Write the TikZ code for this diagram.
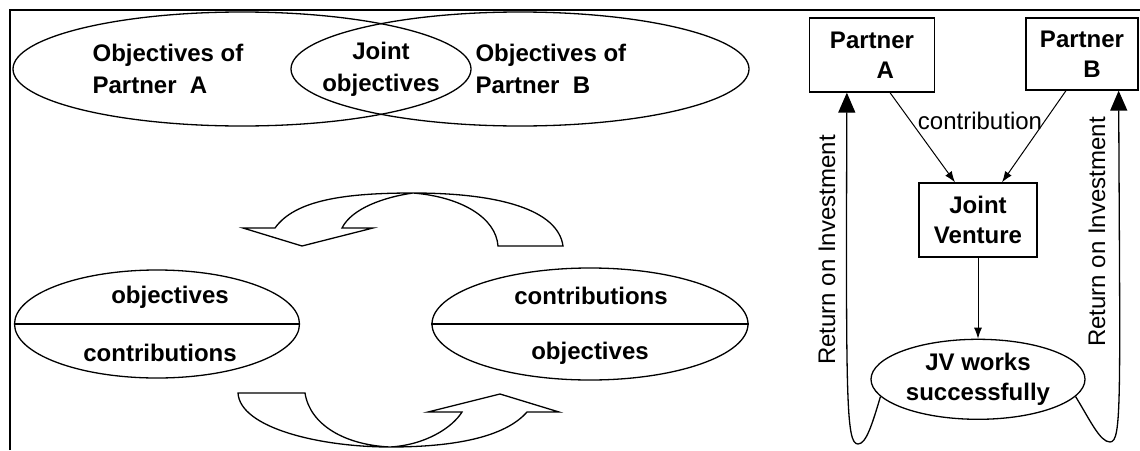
\documentclass[tikz,border=0pt]{standalone}
\usepackage{fontspec}
\setmainfont{Liberation Sans}
\usetikzlibrary{shapes,arrows.meta,positioning}

\tikzset{
  every node/.style={font=\fontsize{24}{30}\selectfont},
  oval/.style={draw,ellipse,line width=1.3pt,inner sep=0pt},
  box/.style={draw,rectangle,line width=1.3pt,inner sep=0pt,align=center,font=\fontsize{24}{30}\selectfont\bfseries},
  txt/.style={align=center,font=\fontsize{24}{32}\selectfont\bfseries},
  bigarrow/.style={draw,line width=1.3pt,line join=miter},
  flow/.style={-{Latex[length=11pt,width=8pt]},line width=1pt},
  roi/.style={-{Triangle[length=20pt,width=17pt]},line width=1.3pt},
}

\begin{document}
\begin{tikzpicture}[x=1pt,y=-1pt]
  \useasboundingbox (0,0) rectangle (1140,450);
  \draw[line width=2.5pt] (10,450) -- (10,10) -- (1140,10);

  % partner objectives
  \node[oval,minimum width=458pt,minimum height=114pt] (objA) at (242,69) {};
  \node[oval,minimum width=458pt,minimum height=114pt] (objB) at (520,69) {};
  \node[txt,align=left] (txtA) at (168,69) {Objectives of\\Partner\ \ A};
  \node[txt] (txtJoint) at (381,69) {Joint\\objectives};
  \node[txt,align=left,anchor=west] (txtB) at (472,69) {Objectives of\\Partner\ \ B};

  % exchange
  \node[oval,minimum width=285pt,minimum height=108pt] (lhalf) at (157,324) {};
  \draw[line width=1.3pt] (lhalf.west) -- (lhalf.east);
  \node[txt] (lobj) at (170,297) {objectives};
  \node[txt] (lcon) at (160,353) {contributions};
  \node[oval,minimum width=316pt,minimum height=112pt] (rhalf) at (590,324) {};
  \draw[line width=1.3pt] (rhalf.west) -- (rhalf.east);
  \node[txt] (rcon) at (591,296) {contributions};
  \node[txt] (robj) at (590,353) {objectives};

  \draw[bigarrow] (243,228) -- (275,228) .. controls (295,200) and (345,193) .. (413,193)
    .. controls (500,193) and (558,210) .. (563,246) -- (498,246)
    .. controls (496,218) and (462,197) .. (413,193)
    .. controls (385,197) and (352,208) .. (342,228) -- (373,228) -- (302,246) -- cycle;
  \draw[bigarrow] (238,393) -- (305,393) .. controls (310,425) and (345,445) .. (390,447)
    .. controls (425,445) and (452,428) .. (462,412) -- (428,412) -- (500,394) -- (559,412) -- (527,412)
    .. controls (505,437) and (455,447) .. (390,447)
    .. controls (320,447) and (240,428) .. (238,393) -- cycle;

  % joint venture
  \node[box,minimum width=125pt,minimum height=74pt] (partA) at (872,55) {Partner\\\ \ \ \ A};
  \node[box,minimum width=112pt,minimum height=72pt] (partB) at (1082,54) {Partner\\\ \ \ B};
  \node[box,minimum width=118pt,minimum height=74pt] (jv) at (978,220) {Joint\\Venture};
  \node[oval,txt,font=\fontsize{24}{30}\selectfont\bfseries,minimum width=214pt,minimum height=80pt,below=81pt of jv] (succ) {JV works\\successfully};
  \draw[flow] ([xshift=18pt]partA.south) -- ([xshift=-23pt]jv.north);
  \draw[flow] ([xshift=-16pt]partB.south) -- ([xshift=24pt]jv.north);
  \node (contrib) at (980,121) {contribution};
  \draw[flow] (jv) -- (succ);
  \draw[roi] (succ.190) .. controls (872,425) and (866,444) .. (858,444)
    .. controls (846,444) and (846,400) .. ([xshift=38pt]partA.south west);
  \draw[roi] (succ.350) .. controls (1090,420) and (1100,442) .. (1110,442)
    .. controls (1122,442) and (1120,400) .. ([xshift=-20pt]partB.south east);
  \node[rotate=90] (roiA) at (827,250) {Return on Investment};
  \node[rotate=90] (roiB) at (1097,232) {Return on Investment};
\end{tikzpicture}
\end{document}
